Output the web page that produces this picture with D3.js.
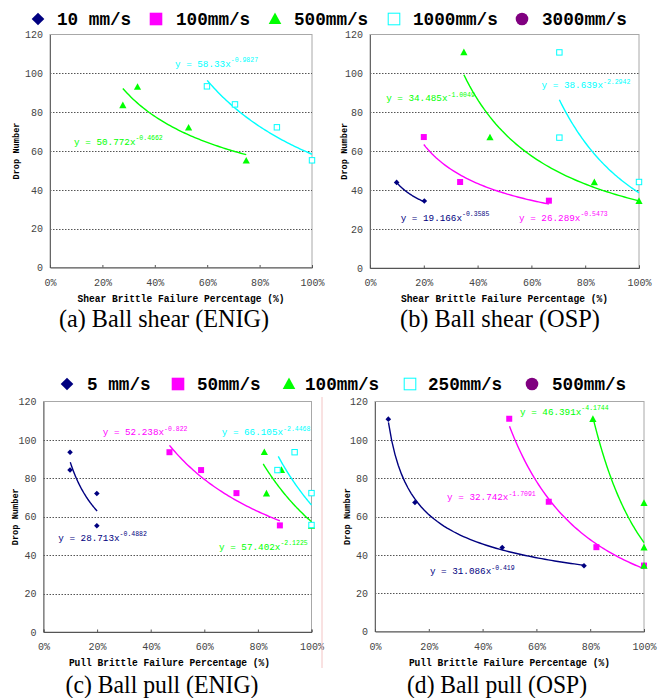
<!DOCTYPE html>
<html><head><meta charset="utf-8">
<script src="https://cdn.jsdelivr.net/npm/d3@7/dist/d3.min.js"></script>
<style>body{margin:0;background:#fff}svg{display:block}</style>
</head><body>
<svg id="c" width="660" height="698"></svg>
<script>
// ---------- data ----------
const yTicks = [0, 20, 40, 60, 80, 100, 120];
const xTicks = [0, 0.2, 0.4, 0.6, 0.8, 1.0];
const xTickLabels = ["0%", "20%", "40%", "60%", "80%", "100%"];
const legendTop = ["10 mm/s", "100mm/s", "500mm/s", "1000mm/s", "3000mm/s"];
const legendBottom = ["5 mm/s", "50mm/s", "100mm/s", "250mm/s", "500mm/s"];
const seriesColors = ["#000080", "#ff00ff", "#00ff00", "#00ffff", "#800080"];
const seriesShapes = ["diamond", "square", "triangle", "open", "circle"];
const captions = ["(a) Ball shear (ENIG)", "(b) Ball shear (OSP)", "(c) Ball pull (ENIG)", "(d) Ball pull (OSP)"];
const xTitles = ["Shear Brittle Failure Percentage (%)", "Shear Brittle Failure Percentage (%)",
                 "Pull Brittle Failure Percentage (%)", "Pull Brittle Failure Percentage (%)"];
const yTitle = "Drop Number";

// (a) Ball shear ENIG
const aX2 = [0.278, 0.334, 0.529, 0.749], aY2 = [83.5, 93, 72, 55];
const aX3 = [0.599, 0.706, 0.866, 1.0],  aY3 = [93.3, 84, 72.2, 55.2];
const aFit2 = [50.772, -0.4662, 0.278, 0.749], aEq2 = ["y = 50.772x", "-0.4662"], aEqAt2 = [0.092, 63.1];
const aFit3 = [58.33, -0.9827, 0.60, 1.0],     aEq3 = ["y = 58.33x", "-0.9827"],  aEqAt3 = [0.477, 103.3];

// (b) Ball shear OSP
const bX0 = [0.099, 0.202], bY0 = [44, 34.4];
const bX1 = [0.2, 0.335, 0.665], bY1 = [67.3, 44.2, 34.6];
const bX2 = [0.349, 0.446, 0.834, 1.0], bY2 = [110.8, 67.1, 44, 34.4];
const bX3 = [0.704, 0.704, 1.0], bY3 = [110.8, 67, 44.2];
const bFit0 = [19.166, -0.3585, 0.1, 0.2],    bEq0 = ["y = 19.166x", "-0.3585"], bEqAt0 = [0.114, 24.2];
const bFit1 = [26.289, -0.5473, 0.2, 0.665],  bEq1 = ["y = 26.289x", "-0.5473"], bEqAt1 = [0.554, 24.2];
const bFit2 = [34.485, -1.0049, 0.349, 1.0],  bEq2 = ["y = 34.485x", "-1.0049"], bEqAt2 = [0.06, 85.8];
const bFit3 = [38.639, -2.2942, 0.704, 1.0],  bEq3 = ["y = 38.639x", "-2.2942"], bEqAt3 = [0.638, 92.5];

// (c) Ball pull ENIG
const cX0 = [0.099, 0.099, 0.199, 0.199], cY0 = [93.6, 84.3, 72.1, 55.3];
const cX1 = [0.47, 0.588, 0.72, 0.882],   cY1 = [93.6, 84.3, 72.3, 55.5];
const cX2 = [0.824, 0.832, 0.888, 1.0],   cY2 = [93.6, 72.1, 84.3, 55.3];
const cX3 = [0.873, 0.937, 1.0, 1.0],     cY3 = [84.3, 93.6, 72.3, 55.7];
const cFit0 = [28.713, -0.4882, 0.1, 0.2],   cEq0 = ["y = 28.713x", "-0.4882"], cEqAt0 = [0.055, 47.4];
const cFit1 = [52.238, -0.822, 0.47, 0.882], cEq1 = ["y = 52.238x", "-0.822"],  cEqAt1 = [0.221, 102.5];
const cFit2 = [57.402, -2.1225, 0.82, 1.0],  cEq2 = ["y = 57.402x", "-2.1225"], cEqAt2 = [0.655, 42.7];
const cFit3 = [66.105, -2.4468, 0.876, 1.0], cEq3 = ["y = 66.105x", "-2.4468"], cEqAt3 = [0.665, 102.5];

// (d) Ball pull OSP
const dX0 = [0.0495, 0.1485, 0.473, 0.777], dY0 = [110.8, 67.3, 43.8, 34.3];
const dX1 = [0.499, 0.646, 0.823, 1.0],     dY1 = [111, 67.7, 44, 34.4];
const dX2 = [0.81, 1.0, 1.0, 1.0],          dY2 = [110.8, 67, 43.8, 34.3];
const dFit0 = [31.086, -0.419, 0.05, 0.777], dEq0 = ["y = 31.086x", "-0.419"],  dEqAt0 = [0.204, 30];
const dFit1 = [32.742, -1.7091, 0.5, 1.0],   dEq1 = ["y = 32.742x", "-1.7091"], dEqAt1 = [0.268, 68.6];
const dFit2 = [46.391, -4.1744, 0.81, 1.0],  dEq2 = ["y = 46.391x", "-4.1744"], dEqAt2 = [0.539, 113];

// ---------- drawing ----------
const svg = d3.select("#c");
const monoFont = "'Liberation Mono', 'DejaVu Sans Mono', monospace";

function marker(g, shape, x, y, s, color) {
  if (shape === "diamond")
    g.append("path").attr("d", `M${x},${y - s}L${x + s},${y}L${x},${y + s}L${x - s},${y}Z`).attr("fill", color);
  else if (shape === "square")
    g.append("rect").attr("x", x - s).attr("y", y - s).attr("width", 2 * s).attr("height", 2 * s).attr("fill", color);
  else if (shape === "triangle")
    g.append("path").attr("d", `M${x},${y - s * 1.05}L${x + s},${y + s * 0.8}L${x - s},${y + s * 0.8}Z`).attr("fill", color);
  else if (shape === "open")
    g.append("rect").attr("x", x - s + 0.5).attr("y", y - s + 0.5).attr("width", 2 * s - 1).attr("height", 2 * s - 1)
      .attr("fill", "#fff").attr("stroke", color).attr("stroke-width", 1);
  else
    g.append("circle").attr("cx", x).attr("cy", y).attr("r", s).attr("fill", color);
}

function drawLegend(labels, markerX, textX, cy, baseline) {
  const g = svg.append("g");
  labels.forEach((lab, i) => {
    marker(g, seriesShapes[i], markerX[i], cy, 6.3, seriesColors[i]);
    g.append("text").attr("x", textX[i]).attr("y", baseline).text(lab)
      .attr("font-family", monoFont).attr("font-weight", "bold").attr("font-size", 18.5)
      .attr("textLength", lab.length * 10.6).attr("lengthAdjust", "spacingAndGlyphs").attr("fill", "#000");
  });
}

function drawPanel(p) {
  const x = d3.scaleLinear().domain([0, 1]).range([p.x0, p.x1]);
  const y = d3.scaleLinear().domain([0, 120]).range([p.yBot, p.yTop]);
  const g = svg.append("g");

  // plot border
  g.append("rect").attr("x", p.x0).attr("y", p.yTop).attr("width", p.x1 - p.x0).attr("height", p.yBot - p.yTop)
    .attr("fill", "none").attr("stroke", "#a8a8a8").attr("stroke-width", 1);

  // gridlines
  g.selectAll(".grid").data(yTicks.filter(v => v > 0 && v < 120)).enter().append("line")
    .attr("x1", p.x0).attr("x2", p.x1).attr("y1", d => Math.round(y(d)) + 0.5).attr("y2", d => Math.round(y(d)) + 0.5)
    .attr("stroke", "#555").attr("stroke-width", 1).attr("stroke-dasharray", "1.5,1.5");

  // axes
  const yAxis = d3.axisLeft(y).tickValues(yTicks).tickSize(0).tickPadding(7);
  const ya = g.append("g").attr("transform", `translate(${p.x0},0)`).call(yAxis);
  ya.select(".domain").attr("stroke", "#666");
  ya.selectAll("text").attr("font-family", monoFont).attr("font-size", 10).attr("fill", "#444");

  const xAxis = d3.axisBottom(x).tickValues(xTicks).tickFormat((d, i) => xTickLabels[i]).tickSize(-2.5).tickPadding(11);
  const xa = g.append("g").attr("transform", `translate(0,${p.yBot})`).call(xAxis);
  xa.select(".domain").attr("stroke", "#555");
  xa.selectAll(".tick line").attr("stroke", "#555");
  xa.selectAll("text").attr("font-family", monoFont).attr("font-size", 10).attr("fill", "#444");

  // titles
  g.append("text").attr("x", (p.x0 + p.x1) / 2 + p.xtOff).attr("y", p.yBot + 34).attr("text-anchor", "middle")
    .attr("font-family", monoFont).attr("font-weight", "bold").attr("font-size", 10)
    .attr("textLength", p.xTitle.length * 5.75).attr("lengthAdjust", "spacingAndGlyphs").text(p.xTitle);
  g.append("text").attr("transform", `translate(${p.ytX},${(p.yTop + p.yBot) / 2}) rotate(-90)`).attr("text-anchor", "middle")
    .attr("dy", "0.35em").attr("font-family", monoFont).attr("font-weight", "bold").attr("font-size", 9.5)
    .attr("textLength", 57).attr("lengthAdjust", "spacingAndGlyphs").text(yTitle);

  // fits
  const line = d3.line().x(d => x(d[0])).y(d => y(d[1]));
  p.series.forEach(s => {
    const [a, b, lo, hi] = s.fit;
    const pts = d3.range(0, 61).map(k => { const xv = lo + (hi - lo) * k / 60; return [xv, a * Math.pow(xv, b)]; });
    g.append("path").attr("d", line(pts)).attr("fill", "none").attr("stroke", seriesColors[s.idx]).attr("stroke-width", 1.4);
  });
  // points
  p.series.forEach(s => {
    const size = { diamond: 2.8, square: 3, triangle: 3.6, open: 3.2, circle: 3 }[seriesShapes[s.idx]];
    s.xs.forEach((xv, i) => marker(g, seriesShapes[s.idx], x(xv), y(s.ys[i]), size, seriesColors[s.idx]));
  });
  // equations
  p.series.forEach(s => {
    const t = g.append("text").attr("x", x(s.eqAt[0])).attr("y", y(s.eqAt[1]))
      .attr("font-family", monoFont).attr("font-size", 9.3).attr("fill", seriesColors[s.idx]);
    t.append("tspan").text(s.eq[0]);
    t.append("tspan").attr("dy", -4.5).attr("font-size", 6.5).text(s.eq[1]);
  });

  // caption
  svg.append("text").attr("x", p.capX).attr("y", p.capY).attr("text-anchor", "middle")
    .attr("font-family", "'Liberation Serif', 'Times New Roman', serif").attr("font-size", 26)
    .attr("textLength", p.capW).attr("lengthAdjust", "spacingAndGlyphs").text(p.caption);
}

drawLegend(legendTop, [38, 156, 275, 394, 522], [57, 176, 294, 413, 542], 19, 25);
drawLegend(legendBottom, [67, 178, 289, 410, 532], [87, 197, 305, 428, 552], 384, 390);

drawPanel({x0: 50, x1: 312, yTop: 34.5, yBot: 267.5, ytX: 16, xtOff: 0,
  xTitle: xTitles[0], caption: captions[0], capX: 164, capY: 327, capW: 210,
  series: [
    {idx: 2, xs: aX2, ys: aY2, fit: aFit2, eq: aEq2, eqAt: aEqAt2},
    {idx: 3, xs: aX3, ys: aY3, fit: aFit3, eq: aEq3, eqAt: aEqAt3}]});
drawPanel({x0: 370, x1: 639, yTop: 34.5, yBot: 268, ytX: 344, xtOff: 0,
  xTitle: xTitles[1], caption: captions[1], capX: 500, capY: 327, capW: 200,
  series: [
    {idx: 0, xs: bX0, ys: bY0, fit: bFit0, eq: bEq0, eqAt: bEqAt0},
    {idx: 1, xs: bX1, ys: bY1, fit: bFit1, eq: bEq1, eqAt: bEqAt1},
    {idx: 2, xs: bX2, ys: bY2, fit: bFit2, eq: bEq2, eqAt: bEqAt2},
    {idx: 3, xs: bX3, ys: bY3, fit: bFit3, eq: bEq3, eqAt: bEqAt3}]});
drawPanel({x0: 43.5, x1: 311.5, yTop: 401.5, yBot: 632, ytX: 15, xtOff: -8,
  xTitle: xTitles[2], caption: captions[2], capX: 162, capY: 693, capW: 193,
  series: [
    {idx: 0, xs: cX0, ys: cY0, fit: cFit0, eq: cEq0, eqAt: cEqAt0},
    {idx: 1, xs: cX1, ys: cY1, fit: cFit1, eq: cEq1, eqAt: cEqAt1},
    {idx: 2, xs: cX2, ys: cY2, fit: cFit2, eq: cEq2, eqAt: cEqAt2},
    {idx: 3, xs: cX3, ys: cY3, fit: cFit3, eq: cEq3, eqAt: cEqAt3}]});
drawPanel({x0: 375, x1: 644, yTop: 401.5, yBot: 631.5, ytX: 347, xtOff: 0,
  xTitle: xTitles[3], caption: captions[3], capX: 497, capY: 693, capW: 180,
  series: [
    {idx: 0, xs: dX0, ys: dY0, fit: dFit0, eq: dEq0, eqAt: dEqAt0},
    {idx: 1, xs: dX1, ys: dY1, fit: dFit1, eq: dEq1, eqAt: dEqAt1},
    {idx: 2, xs: dX2, ys: dY2, fit: dFit2, eq: dEq2, eqAt: dEqAt2}]});

// faint separator line in the lower half
svg.append("line").attr("x1", 322).attr("x2", 322).attr("y1", 397).attr("y2", 668)
  .attr("stroke", "#f3c4c4").attr("stroke-width", 1);
</script>
</body></html>
